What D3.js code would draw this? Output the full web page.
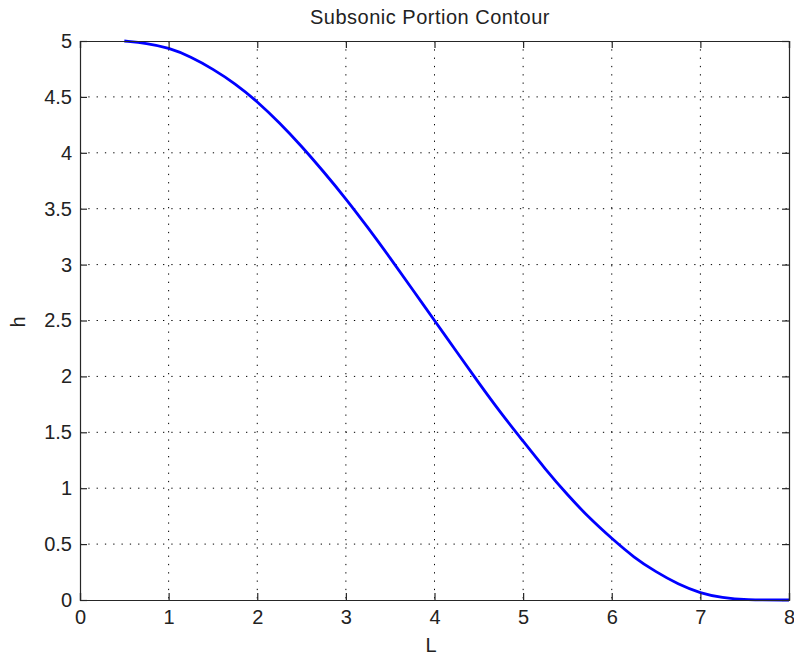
<!DOCTYPE html>
<html><head><meta charset="utf-8">
<script src="https://cdn.jsdelivr.net/npm/d3@7"></script>
<style>body{margin:0;background:#fff}svg{display:block}</style>
</head><body>
<svg id="c" width="794" height="656"></svg>
<script>
const L = [0.5,0.75,1,1.25,1.5,1.75,2,2.25,2.5,2.75,3,3.25,3.5,3.75,4,4.25,4.5,4.75,5,5.25,5.5,5.75,6,6.25,6.5,6.75,7,7.25,7.5,8];
const h = [5,4.98,4.94,4.86,4.75,4.62,4.46,4.27,4.06,3.83,3.59,3.33,3.06,2.78,2.5,2.22,1.94,1.67,1.42,1.17,0.94,0.73,0.55,0.38,0.25,0.14,0.06,0.02,0,0];
const xTicks = [0,1,2,3,4,5,6,7,8];
const yTicks = [0,0.5,1,1.5,2,2.5,3,3.5,4,4.5,5];
const title = "Subsonic Portion Contour", xLabel = "L", yLabel = "h";

const svg = d3.select("#c");
const m = {l:80, r:789, t:41, b:600};
const x = d3.scaleLinear().domain([0,8]).range([m.l, m.r]);
const y = d3.scaleLinear().domain([0,5]).range([m.b, m.t]);
const font = "'Liberation Sans', Arial, sans-serif";
const axCol = "#262626";

// grid
const g = svg.append("g");
g.selectAll(".vx").data(xTicks.slice(1,-1)).join("line")
  .attr("x1", d=>x(d)).attr("x2", d=>x(d)).attr("y1", m.t).attr("y2", m.b)
  .attr("stroke","#000").attr("stroke-width",1).attr("stroke-dasharray","1.3,7");
g.selectAll(".hy").data(yTicks.slice(1,-1)).join("line")
  .attr("y1", d=>y(d)).attr("y2", d=>y(d)).attr("x1", m.l).attr("x2", m.r)
  .attr("stroke","#000").attr("stroke-width",1).attr("stroke-dasharray","1.3,7");

// line
svg.append("path").datum(L.map((d,i)=>[d,h[i]]))
  .attr("d", d3.line().curve(d3.curveBasis).x(d=>x(d[0])).y(d=>y(d[1])))
  .attr("fill","none").attr("stroke","#0000ff").attr("stroke-width",2.8);

// axes
const ax = d3.axisBottom(x).tickValues(xTicks).tickSize(-7).tickPadding(10).tickFormat(d3.format("d"));
const ay = d3.axisLeft(y).tickValues(yTicks).tickSize(-7).tickPadding(8).tickFormat(d=>String(d));
const ax2 = d3.axisTop(x).tickValues(xTicks).tickSize(-7).tickFormat("");
const ay2 = d3.axisRight(y).tickValues(yTicks).tickSize(-7).tickFormat("");
function style(sel){
  sel.select(".domain").attr("stroke",axCol).attr("stroke-width",1.2);
  sel.selectAll(".tick line").attr("stroke",axCol).attr("stroke-width",1.2);
  sel.selectAll("text").attr("font-family",font).attr("font-size",20).attr("fill","#222");
}
svg.append("g").attr("transform",`translate(0,${m.b})`).call(ax).call(style);
svg.append("g").attr("transform",`translate(${m.l},0)`).call(ay).call(style);
svg.append("g").attr("transform",`translate(0,${m.t})`).call(ax2).call(style);
svg.append("g").attr("transform",`translate(${m.r},0)`).call(ay2).call(style);

svg.append("text").attr("x",430).attr("y",24).attr("text-anchor","middle")
  .attr("font-family",font).attr("font-size",20).attr("letter-spacing",0.5).attr("fill","#222").text(title);
svg.append("text").attr("x",431).attr("y",652).attr("text-anchor","middle")
  .attr("font-family",font).attr("font-size",20).attr("fill","#222").text(xLabel);
svg.append("text").attr("transform","translate(25,322) rotate(-90)").attr("text-anchor","middle")
  .attr("font-family",font).attr("font-size",20).attr("fill","#222").text(yLabel);
</script>
</body></html>
